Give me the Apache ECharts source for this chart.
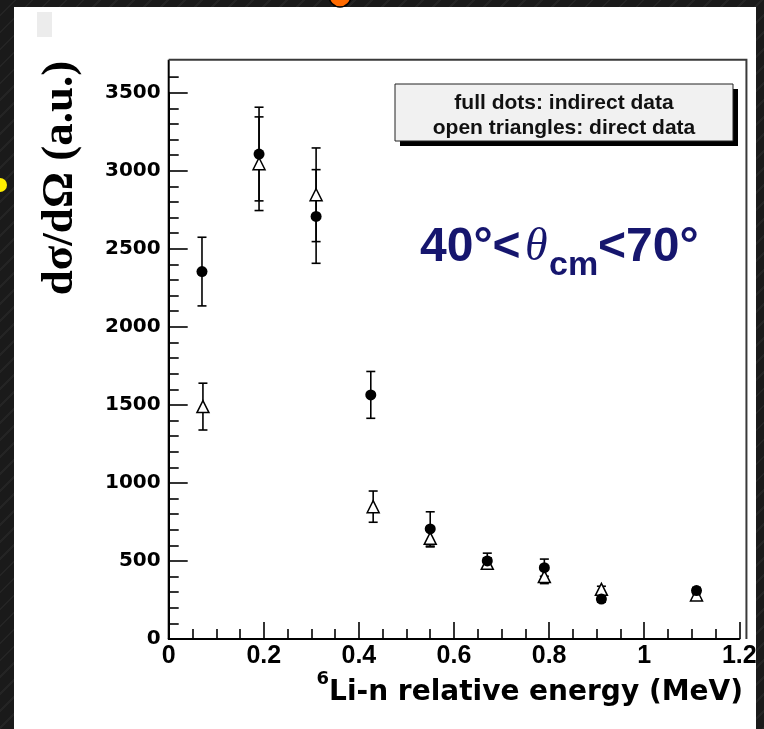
<!DOCTYPE html>
<html>
<head>
<meta charset="utf-8">
<script src="https://cdn.jsdelivr.net/npm/echarts@6/dist/echarts.min.js"></script>
<style>
  html, body { margin: 0; padding: 0; }
  #wrap {
    position: relative; width: 764px; height: 729px;
    background: repeating-linear-gradient(135deg, #1a1a1a 0 10px, #242424 10px 12px);
  }
  #panel { position: absolute; left: 14px; top: 7px; width: 742px; height: 722px; background: #fff; }
  #chart { position: absolute; left: 0; top: 0; width: 764px; height: 729px; }
</style>
</head>
<body>
<div id="wrap"><div id="panel"></div><div id="chart"></div></div>
<script>
// 6Li-n relative energy (MeV)
const energy = [0.07, 0.19, 0.31, 0.425, 0.55, 0.67, 0.79, 0.91, 1.11];
// full dots: indirect data
const indirectY = [2354, 3107, 2707, 1564, 705, 500, 457, 256, 310];
const indirectErr = [220, 300, 300, 150, 110, 50, 55, 20, 20];
// open triangles: direct data
const directX = [0.072, 0.19, 0.31, 0.43, 0.55, 0.67, 0.79, 0.91, 1.11];
const directY = [1489, 3045, 2846, 848, 645, 485, 400, 318, 282];
const directErr = [150, 300, 300, 100, 55, 35, 45, 20, 20];

// tick labels
const xTicks = [0, 0.2, 0.4, 0.6, 0.8, 1, 1.2];
const yTicks = [0, 500, 1000, 1500, 2000, 2500, 3000, 3500];
// the frame goes a little past the last labels
const frameX = 1.215;
const frameY = 3711;
const extraMinorY = [3600];

const chart = echarts.init(document.getElementById('chart'));

function errorBars(xs, ys, errs) {
  return {
    type: 'custom',
    silent: true,
    z: 1,
    encode: { x: 0, y: [1, 2] },
    data: xs.map((x, i) => [x, ys[i] - errs[i], ys[i] + errs[i]]),
    renderItem: (params, api) => {
      const lo = api.coord([api.value(0), api.value(1)]);
      const hi = api.coord([api.value(0), api.value(2)]);
      const w = 4.5;
      const st = { stroke: '#000', lineWidth: 1.6 };
      return {
        type: 'group',
        children: [
          { type: 'line', shape: { x1: lo[0], y1: lo[1], x2: hi[0], y2: hi[1] }, style: st },
          { type: 'line', shape: { x1: lo[0] - w, y1: lo[1], x2: lo[0] + w, y2: lo[1] }, style: st },
          { type: 'line', shape: { x1: hi[0] - w, y1: hi[1], x2: hi[0] + w, y2: hi[1] }, style: st }
        ]
      };
    }
  };
}

const navy = '#16166e';

chart.setOption({
  backgroundColor: 'transparent',
  animation: false,
  grid: { left: 168.7, right: 24.7, top: 92.7, bottom: 90 },
  xAxis: {
    type: 'value',
    min: xTicks[0], max: xTicks[xTicks.length - 1], interval: xTicks[1] - xTicks[0],
    axisLine: { lineStyle: { color: '#000', width: 2 } },
    axisTick: { inside: true, length: 17, lineStyle: { color: '#000', width: 1.6 } },
    minorTick: { show: true, splitNumber: 4, length: 10, lineStyle: { color: '#000', width: 1.6 } },
    splitLine: { show: false },
    axisLabel: {
      margin: 5, color: '#000', fontFamily: 'Liberation Sans', fontWeight: 'bold', fontSize: 25,
      formatter: v => String(v)
    }
  },
  yAxis: {
    type: 'value',
    min: yTicks[0], max: yTicks[yTicks.length - 1], interval: yTicks[1] - yTicks[0],
    axisLine: { lineStyle: { color: '#000', width: 2 } },
    axisTick: { inside: true, length: 19, lineStyle: { color: '#000', width: 1.6 } },
    minorTick: { show: true, splitNumber: 5, length: 10, lineStyle: { color: '#000', width: 1.6 } },
    splitLine: { show: false },
    axisLabel: {
      margin: 8, color: '#000', fontFamily: 'DejaVu Sans', fontWeight: 'bold', fontSize: 20,
      formatter: v => String(v)
    }
  },
  series: [
    {
      // plot frame and the minor tick above the last label
      type: 'custom',
      silent: true,
      clip: false,
      z: 1,
      encode: { x: 0, y: 1 },
      data: [[frameX, frameY]],
      renderItem: (params, api) => {
        const o = api.coord([0, 0]);
        const tl = api.coord([0, frameY]);
        const tr = api.coord([frameX, frameY]);
        const br = api.coord([frameX, 0]);
        const kids = [
          { type: 'line', shape: { x1: o[0], y1: o[1], x2: tl[0], y2: tl[1] }, style: { stroke: '#000', lineWidth: 2 } },
          { type: 'polyline', shape: { points: [tl, tr, br] }, style: { stroke: '#3a3a3a', lineWidth: 2, fill: null } }
        ];
        extraMinorY.forEach(v => {
          const p = api.coord([0, v]);
          kids.push({ type: 'line', shape: { x1: p[0], y1: p[1], x2: p[0] + 10, y2: p[1] }, style: { stroke: '#000', lineWidth: 1.6 } });
        });
        return { type: 'group', children: kids };
      }
    },
    errorBars(directX, directY, directErr),
    errorBars(energy, indirectY, indirectErr),
    {
      name: 'direct', type: 'scatter', symbol: 'triangle', symbolSize: 12, z: 3,
      itemStyle: { color: '#fff', borderColor: '#000', borderWidth: 1.5, opacity: 1 },
      data: directX.map((x, i) => [x, directY[i]])
    },
    {
      name: 'indirect', type: 'scatter', symbol: 'circle', symbolSize: 11, z: 4,
      itemStyle: { color: '#000', opacity: 1 },
      data: energy.map((x, i) => [x, indirectY[i]])
    }
  ],
  graphic: [
    { type: 'rect', shape: { x: 37, y: 12, width: 15, height: 25 }, style: { fill: '#ececec' } },
    { type: 'circle', shape: { cx: 340, cy: -4, r: 11 }, style: { fill: '#ff6a00', stroke: '#000', lineWidth: 1.5 } },
    { type: 'circle', shape: { cx: 0, cy: 185, r: 7 }, style: { fill: '#ffee00' } },
    // legend box
    { type: 'rect', shape: { x: 400, y: 89, width: 338, height: 57 }, style: { fill: '#000' } },
    { type: 'rect', shape: { x: 395, y: 84, width: 338, height: 57 }, style: { fill: '#f1f1f1', stroke: '#222', lineWidth: 1 } },
    { type: 'text', x: 564, y: 103, style: { text: 'full dots: indirect data', fill: '#111', font: 'bold 21px "Liberation Sans"', align: 'center', verticalAlign: 'middle' } },
    { type: 'text', x: 564, y: 128, style: { text: 'open triangles: direct data', fill: '#111', font: 'bold 21px "Liberation Sans"', align: 'center', verticalAlign: 'middle' } },
    // angle range annotation
    { type: 'text', x: 420, y: 248, style: { text: '40°<', fill: navy, font: 'bold 48px "Liberation Sans"', align: 'left', verticalAlign: 'middle' } },
    { type: 'text', x: 525, y: 248, style: { text: 'θ', fill: navy, font: 'italic 46px "Liberation Serif"', align: 'left', verticalAlign: 'middle' } },
    { type: 'text', x: 549, y: 266, style: { text: 'cm', fill: navy, font: 'bold 34px "Liberation Sans"', align: 'left', verticalAlign: 'middle' } },
    { type: 'text', x: 598, y: 248, style: { text: '<70°', fill: navy, font: 'bold 48px "Liberation Sans"', align: 'left', verticalAlign: 'middle' } },
    // axis titles
    {
      type: 'text', x: 60, y: 178, rotation: Math.PI / 2,
      style: { text: 'dσ/dΩ (a.u.)', fill: '#000', font: 'bold 45px "Liberation Serif"', align: 'center', verticalAlign: 'middle' }
    },
    {
      type: 'text', x: 743, y: 693,
      style: {
        text: '{s|6}{m|Li-n relative energy (MeV)}',
        align: 'right', verticalAlign: 'middle',
        rich: {
          s: { fill: '#000', fontFamily: 'DejaVu Sans', fontWeight: 'bold', fontSize: 18, lineHeight: 18, verticalAlign: 'top' },
          m: { fill: '#000', fontFamily: 'DejaVu Sans', fontWeight: 'bold', fontSize: 28, lineHeight: 46 }
        }
      }
    }
  ]
});
</script>
</body>
</html>
